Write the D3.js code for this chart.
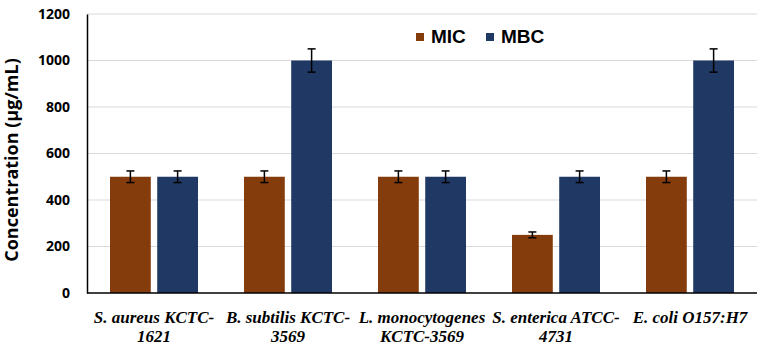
<!DOCTYPE html>
<html><head><meta charset="utf-8">
<script src="https://cdn.jsdelivr.net/npm/d3@7"></script>
<style>body{margin:0;background:#fff}</style>
</head><body>
<svg id="c" width="777" height="348"></svg>
<script>
const categories = [["S. aureus KCTC-","1621"],["B. subtilis KCTC-","3569"],["L. monocytogenes","KCTC-3569"],["S. enterica ATCC-","4731"],["E. coli O157:H7",""]];
const seriesNames = ["MIC","MBC"];
const micValues = [500,500,500,250,500];
const mbcValues = [500,1000,500,500,1000];
const micErrors = [25,25,25,12.5,25];
const mbcErrors = [25,50,25,25,50];
const yTicks = [0,200,400,600,800,1000,1200];
const colors = ["#843C0C","#1F3864"];

const svg = d3.select("#c");
const L=87,R=757,T=14,B=293;
const x = d3.scaleBand().domain(d3.range(categories.length)).range([L,R]);
const y = d3.scaleLinear().domain([0,1200]).range([B,T]);
const sub = d3.scaleBand().domain([0,1]).range([0,88]).paddingInner(12/88);

// gridlines
svg.append("g").selectAll("line").data(yTicks.slice(1)).join("line")
  .attr("x1",L).attr("x2",R).attr("y1",d=>y(d)).attr("y2",d=>y(d))
  .attr("stroke","#d9d9d9").attr("stroke-width",1);

// y axis
const ya = svg.append("g").attr("transform",`translate(${L},0)`)
  .call(d3.axisLeft(y).tickValues(yTicks).tickFormat(d3.format("d")).tickSize(0).tickPadding(17));
ya.select(".domain").attr("stroke","#000").attr("stroke-width",1.5);
ya.selectAll("text").attr("font-family","'Open Sans',Arial,sans-serif").attr("font-weight","bold").attr("font-size","14px").attr("fill","#000");

// bars
const data = categories.map((c,i)=>[{s:0,v:micValues[i],e:micErrors[i]},{s:1,v:mbcValues[i],e:mbcErrors[i]}]);
const g = svg.append("g").selectAll("g").data(data).join("g")
  .attr("transform",(d,i)=>`translate(${x(i)+x.bandwidth()/2-44},0)`);
g.selectAll("rect").data(d=>d).join("rect")
  .attr("x",d=>sub(d.s)).attr("width",sub.bandwidth())
  .attr("y",d=>y(d.v)).attr("height",d=>B-y(d.v)).attr("fill",d=>colors[d.s]);
const eb = g.selectAll("g.eb").data(d=>d).join("g").attr("class","eb")
  .attr("transform",d=>`translate(${sub(d.s)+sub.bandwidth()/2},0)`);
eb.append("line").attr("y1",d=>y(d.v+d.e)).attr("y2",d=>y(d.v-d.e)).attr("stroke","#000").attr("stroke-width",1.5);
eb.append("line").attr("x1",-4).attr("x2",4).attr("y1",d=>y(d.v+d.e)).attr("y2",d=>y(d.v+d.e)).attr("stroke","#000").attr("stroke-width",1.5);
eb.append("line").attr("x1",-4).attr("x2",4).attr("y1",d=>y(d.v-d.e)).attr("y2",d=>y(d.v-d.e)).attr("stroke","#000").attr("stroke-width",1.5);

// x axis line
svg.append("line").attr("x1",L).attr("x2",R).attr("y1",B).attr("y2",B).attr("stroke","#000").attr("stroke-width",1.5);

// x labels
const xl = svg.append("g").selectAll("text").data(categories).join("text")
  .attr("x",(d,i)=>x(i)+x.bandwidth()/2).attr("y",323)
  .attr("text-anchor","middle").attr("font-family","'Liberation Serif','Times New Roman',serif")
  .attr("font-weight","bold").attr("font-style","italic").attr("font-size","17px").attr("fill","#000");
xl.append("tspan").text(d=>d[0]);
xl.append("tspan").attr("x",(d,i)=>x(i)+x.bandwidth()/2).attr("dy",19).text(d=>d[1]);

// y title
svg.append("text").attr("transform","translate(18,160) rotate(-90)").attr("text-anchor","middle")
  .attr("font-family","'Open Sans',Arial,sans-serif").attr("font-weight","bold").attr("font-size","18px").attr("fill","#000")
  .text("Concentration (µg/mL)");

// legend
const lx=[416,486];
const lg = svg.append("g").selectAll("g").data(seriesNames).join("g").attr("transform",(d,i)=>`translate(${lx[i]},33)`);
lg.append("rect").attr("width",8).attr("height",8).attr("fill",(d,i)=>colors[i]);
lg.append("text").attr("x",15).attr("y",10).attr("font-family","Arial,'Liberation Sans',sans-serif").attr("font-weight","bold").attr("font-size","19px").attr("fill","#000").text(d=>d);
</script>
</body></html>
